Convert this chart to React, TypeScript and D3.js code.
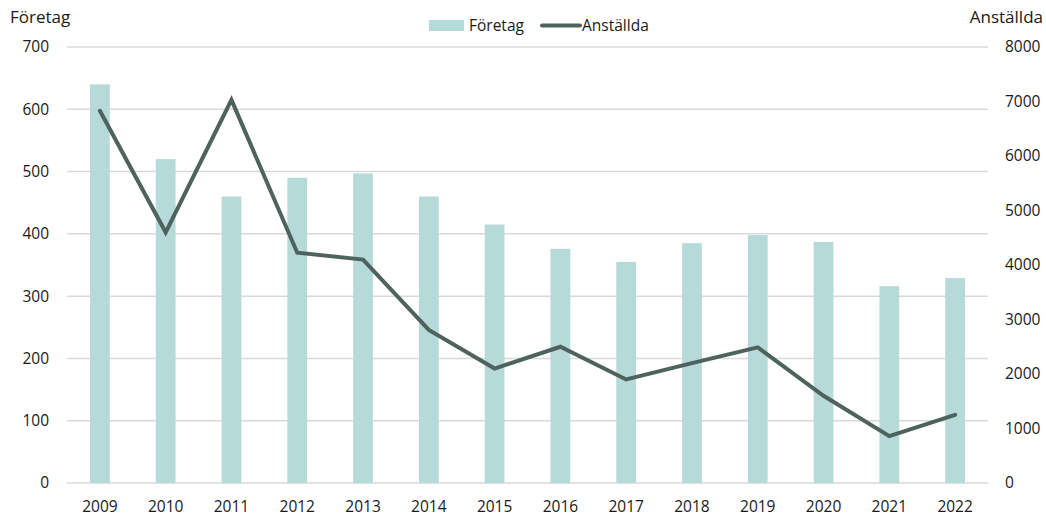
import React from "react";
import * as d3 from "d3";

const years = ["2009","2010","2011","2012","2013","2014","2015","2016","2017","2018","2019","2020","2021","2022"];
const foretag = [640, 520, 460, 490, 497, 460, 415, 376, 355, 385, 398, 387, 316, 329];
const anstallda = [6830, 4600, 7030, 4225, 4100, 2810, 2100, 2500, 1900, 2200, 2490, 1600, 860, 1250];
const leftTicks = [0, 100, 200, 300, 400, 500, 600, 700];
const rightTicks = [0, 1000, 2000, 3000, 4000, 5000, 6000, 7000, 8000];

const W = 1046, H = 517;
const M = { left: 67, right: 988, top: 47, bottom: 483 };
const FONT = "'Open Sans', 'Noto Sans', sans-serif";
const BAR = "#b5dad7";
const LINE = "#4e625e";
const GRID = "#d9d9d9";
const TXT = "#1a1a1a";

export default function App() {
  const x = d3.scaleBand<string>().domain(years).range([M.left, M.right]).paddingInner(0.7).paddingOuter(0.35);
  const yL = d3.scaleLinear().domain([0, 700]).range([M.bottom, M.top]);
  const yR = d3.scaleLinear().domain([0, 8000]).range([M.bottom, M.top]);
  const cx = (d: string) => (x(d) as number) + x.bandwidth() / 2;
  const line = d3.line<number>().x((_, i) => cx(years[i])).y((v) => yR(v));

  return (
    <svg width={W} height={H} style={{ position: "absolute", left: 0, top: 0, fontFamily: FONT }}>
      <rect width={W} height={H} fill="#fff" />
      {leftTicks.map((t) => (
        <line key={t} x1={M.left} x2={M.right} y1={yL(t)} y2={yL(t)} stroke={GRID} strokeWidth={1.5} />
      ))}
      {years.map((y, i) => (
        <rect key={y} x={x(y)} y={yL(foretag[i])} width={x.bandwidth()} height={yL(0) - yL(foretag[i])} fill={BAR} />
      ))}
      <path d={line(anstallda) || ""} fill="none" stroke={LINE} strokeWidth={4} strokeLinejoin="miter" strokeLinecap="round" />
      {leftTicks.map((t) => (
        <text key={t} x={49} y={yL(t)} dy="0.35em" textAnchor="end" fontSize={15.5} fill={TXT}>{t}</text>
      ))}
      {rightTicks.map((t) => (
        <text key={t} x={1005} y={yR(t)} dy="0.35em" textAnchor="start" fontSize={15.5} fill={TXT}>{t}</text>
      ))}
      {years.map((y) => (
        <text key={y} x={cx(y)} y={512} textAnchor="middle" fontSize={15.5} fill={TXT}>{y}</text>
      ))}
      <text x={10} y={23} fontSize={17} fill={TXT}>Företag</text>
      <text x={1043} y={23} textAnchor="end" fontSize={17} fill={TXT}>Anställda</text>
      <rect x={429} y={20} width={35} height={11} fill={BAR} />
      <text x={469} y={31} fontSize={15.5} fill={TXT}>Företag</text>
      <line x1={542} x2={580} y1={25.5} y2={25.5} stroke={LINE} strokeWidth={4} strokeLinecap="round" />
      <text x={582} y={31} fontSize={15.5} fill={TXT}>Anställda</text>
    </svg>
  );
}
